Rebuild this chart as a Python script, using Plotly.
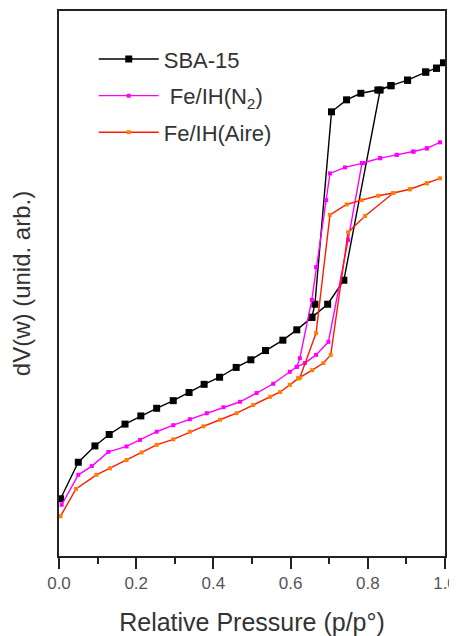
import plotly.graph_objects as go

# ---------------- data (x = relative pressure p/p°, y = dV(w) in arbitrary units) ----------------
sba_ads_x = [0.004, 0.050, 0.093, 0.130, 0.171, 0.212, 0.253, 0.296, 0.337, 0.376, 0.416, 0.459,
             0.497, 0.535, 0.580, 0.616, 0.655, 0.696, 0.738, 0.832, 0.860, 0.903, 0.950, 0.978, 0.996]
sba_ads_y = [10.5, 17.2, 20.2, 22.3, 24.2, 25.7, 27.1, 28.5, 30.0, 31.5, 32.8, 34.6,
             36.0, 37.7, 39.6, 41.5, 43.8, 46.2, 50.6, 85.5, 86.3, 87.3, 88.8, 89.5, 90.5]
sba_des_x = [0.978, 0.950, 0.903, 0.860, 0.826, 0.782, 0.745, 0.706, 0.663, 0.655]
sba_des_y = [89.5, 88.8, 87.3, 86.3, 85.5, 84.9, 83.7, 81.5, 46.2, 43.8]

n2_ads_x = [0.007, 0.050, 0.085, 0.128, 0.175, 0.210, 0.253, 0.296, 0.339, 0.383, 0.426, 0.469,
            0.512, 0.555, 0.598, 0.616, 0.637, 0.666, 0.698, 0.749, 0.785, 0.832, 0.875, 0.918,
            0.953, 0.987]
n2_ads_y = [9.4, 14.9, 16.5, 19.1, 20.1, 21.3, 22.8, 24.0, 25.1, 26.2, 27.3, 28.3,
            29.9, 31.6, 33.8, 34.7, 35.4, 36.9, 39.3, 58.0, 72.1, 73.0, 73.6, 74.2,
            74.8, 75.9]
n2_des_x = [0.953, 0.918, 0.875, 0.832, 0.788, 0.741, 0.702, 0.692, 0.666, 0.655, 0.624, 0.616]
n2_des_y = [74.8, 74.2, 73.6, 73.0, 72.1, 71.3, 70.2, 65.3, 53.0, 47.0, 36.3, 34.7]

air_ads_x = [0.004, 0.044, 0.097, 0.132, 0.175, 0.214, 0.253, 0.296, 0.339, 0.374, 0.417, 0.460,
             0.503, 0.547, 0.573, 0.598, 0.620, 0.656, 0.685, 0.704, 0.749, 0.793, 0.866, 0.909,
             0.953, 0.987]
air_ads_y = [7.3, 12.3, 14.9, 16.1, 17.6, 19.0, 20.4, 21.4, 22.8, 23.8, 25.0, 26.2,
             27.7, 29.2, 30.1, 31.4, 32.6, 34.1, 35.4, 36.9, 59.4, 62.4, 66.6, 67.3,
             68.4, 69.3]
air_des_x = [0.953, 0.909, 0.866, 0.827, 0.784, 0.745, 0.702, 0.666, 0.624, 0.620]
air_des_y = [68.4, 67.3, 66.6, 66.1, 65.3, 64.5, 62.6, 40.9, 32.7, 32.6]

series_names = ["SBA-15", " Fe/IH(N<sub>2</sub>)", "Fe/IH(Aire)"]
tick_vals = [0.0, 0.2, 0.4, 0.6, 0.8, 1.0]
tick_text = ["0.0", "0.2", "0.4", "0.6", "0.8", "1.0"]

FONT = "Liberation Sans, Arial, sans-serif"

fig = go.Figure()

styles = [
    dict(line_color="#000000", marker_color="#000000", size=7),
    dict(line_color="#ff00ff", marker_color="#ff00ff", size=4),
    dict(line_color="#ff1a00", marker_color="#ff8000", size=4),
]
data = [
    (sba_ads_x + sba_des_x, sba_ads_y + sba_des_y),
    (n2_ads_x + n2_des_x, n2_ads_y + n2_des_y),
    (air_ads_x + air_des_x, air_ads_y + air_des_y),
]

for name, (xs, ys), st in zip(series_names, data, styles):
    fig.add_trace(go.Scatter(
        x=xs, y=ys, mode="lines+markers", name=name, legendgroup=name,
        line=dict(color=st["line_color"], width=1.4),
        marker=dict(color=st["marker_color"], size=st["size"], symbol="square",
                    line=dict(width=0)),
    ))

# the page body adds an 8px offset, so the figure is 8px smaller than the window
fig.update_layout(
    width=449, height=628,
    margin=dict(l=51, r=12, t=3, b=80),
    paper_bgcolor="white", plot_bgcolor="white",
    font=dict(family=FONT, color="#333333"),
    showlegend=True,
    legend=dict(
        x=0.09, y=0.95, xanchor="left", yanchor="top",
        bgcolor="rgba(0,0,0,0)", borderwidth=0,
        font=dict(size=22, color="#333333", family=FONT),
        itemwidth=60, traceorder="grouped", tracegroupgap=5,
    ),
    xaxis=dict(
        range=[0, 1], tickvals=tick_vals, ticktext=tick_text,
        ticks="outside", ticklen=11, tickwidth=2, tickcolor="#222222",
        minor=dict(ticks="outside", ticklen=6, tickwidth=2, tickcolor="#222222", dtick=0.1),
        showline=True, linecolor="#222222", linewidth=2, mirror=True,
        showgrid=False, zeroline=False, automargin=False,
        ticklabelstandoff=0,
        tickfont=dict(size=17, color="#555555", family=FONT),
        title=dict(text="Relative Pressure (p/p°)", standoff=24,
                   font=dict(size=25, color="#333333", family=FONT)),
    ),
    yaxis=dict(
        range=[0, 100], showticklabels=False, ticks="",
        showline=True, linecolor="#222222", linewidth=2, mirror=True,
        showgrid=False, zeroline=False, automargin=False,
        title=dict(text="dV(w) (unid. arb.)", standoff=23,
                   font=dict(size=24, color="#333333", family=FONT)),
    ),
)

fig.write_html("out.html")
